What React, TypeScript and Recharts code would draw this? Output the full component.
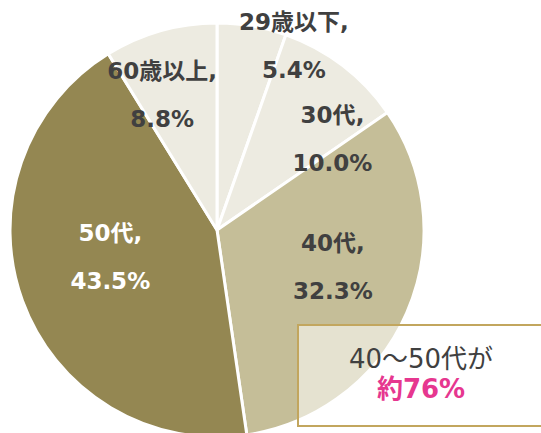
import React from 'react';
import { PieChart, Pie, Cell } from 'recharts';

const categories = ['29歳以下', '30代', '40代', '50代', '60歳以上'];
const shares = [5.4, 10.0, 32.3, 43.5, 8.8];

const sliceColors = ['#EDEBE1', '#EDEBE1', '#C5BE98', '#948752', '#EDEBE1'];
const labelColors = ['#404040', '#404040', '#404040', '#FFFFFF', '#404040'];
// nudges from the default label spot (60% of the radius)
const labelNudge = [
  [56, -62],
  [40, 8],
  [2, -13],
  [10, -15],
  [-21, -16],
];

const data = categories.map((name, i) => ({ name, value: shares[i] }));

const FONT = '"DejaVu Sans", "Noto Sans CJK JP", sans-serif';
const RADIAN = Math.PI / 180;

const renderLabel = (props: any) => {
  const { cx, cy, midAngle, outerRadius, index } = props;
  const r = outerRadius * 0.6;
  const x = cx + r * Math.cos(-midAngle * RADIAN) + labelNudge[index][0];
  const y = cy + r * Math.sin(-midAngle * RADIAN) + labelNudge[index][1];
  return (
    <g>
      <text x={x} y={y - 24} textAnchor="middle" dominantBaseline="central"
        fill={labelColors[index]} fontSize={23} fontWeight="bold" fontFamily={FONT}>
        {categories[index]},
      </text>
      <text x={x} y={y + 24} textAnchor="middle" dominantBaseline="central"
        fill={labelColors[index]} fontSize={23} fontWeight="bold" fontFamily={FONT}>
        {shares[index].toFixed(1)}%
      </text>
    </g>
  );
};

export default function App() {
  return (
    <div style={{ position: 'absolute', left: 0, top: 0, width: 541, height: 433, overflow: 'hidden', background: '#fff' }}>
      <PieChart width={541} height={433} margin={{ top: 0, right: 0, bottom: 0, left: 0 }}>
        <Pie
          data={data}
          dataKey="value"
          cx={217}
          cy={230}
          outerRadius={207}
          startAngle={90}
          endAngle={-270}
          stroke="#FFFFFF"
          strokeWidth={3}
          label={renderLabel}
          labelLine={false}
          isAnimationActive={false}
        >
          {data.map((d, i) => (
            <Cell key={d.name} fill={sliceColors[i]} />
          ))}
        </Pie>
      </PieChart>
      <div style={{
        position: 'absolute', left: 297, top: 324, width: 260, height: 103,
        border: '2px solid #C2A65E', background: 'rgba(255,255,255,0.55)',
        boxSizing: 'border-box', fontFamily: FONT,
      }}>
        <div style={{ position: 'absolute', left: 0, width: 244, top: 17, textAlign: 'center', fontSize: 26, color: '#404040', lineHeight: '32px' }}>
          40～50代が
        </div>
        <div style={{ position: 'absolute', left: 0, width: 244, top: 47, textAlign: 'center', fontSize: 26, fontWeight: 'bold', color: '#E6378F', lineHeight: '32px' }}>
          約76%
        </div>
      </div>
    </div>
  );
}
